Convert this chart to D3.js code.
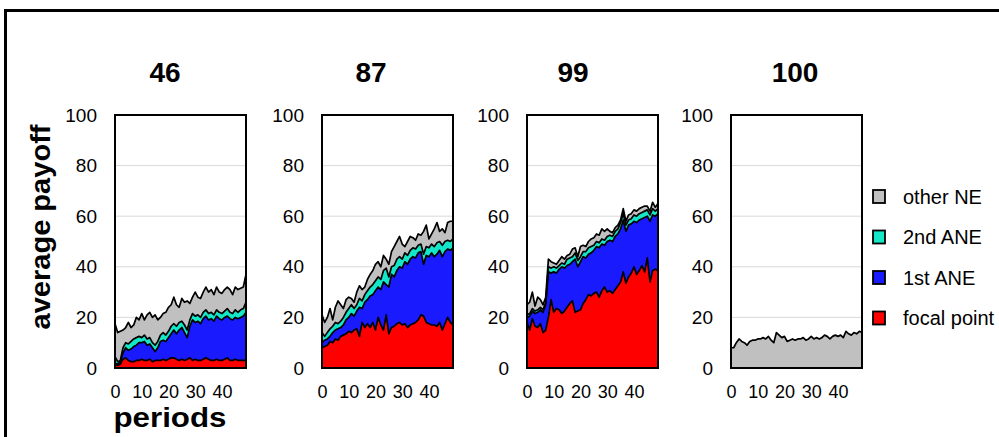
<!DOCTYPE html>
<html>
<head>
<meta charset="utf-8">
<script src="https://cdn.jsdelivr.net/npm/d3@7"></script>
<style>
	body { margin: 0; background: #fff; }
	text { font-family: "Liberation Sans", Arial, sans-serif; fill: #000; }
</style>
</head>
<body>
<div id="chart-area"></div>
<script>
// ---- data ----
const panelTitles = ["46", "87", "99", "100"];
const seriesKeys = ["focal", "ane1", "ane2", "other"];
const seriesNames = ["focal point", "1st ANE", "2nd ANE", "other NE"];
const yTickValues = [0, 20, 40, 60, 80, 100];
const xTickValues = [0, 10, 20, 30, 40];

// panel 46
const focal46 = [1.5,1,1.5,3.5,4,3,2.5,2.5,3,3,3.5,3,3,3.5,2.5,3,3,3,3.5,3,3.5,4,4,3.5,3,3.5,3,3.5,4,3,3.5,3,3,3.5,4,3.5,3,3,3.5,3,3,3.5,4,3,3,3.5,3,3,3,3];
const ane1st46 = [0.5,0.5,1,2.5,4,4,5,6,6,7,6.5,7.5,6,6,5.5,3.5,5,7.5,7.5,7.5,8.5,9.5,11,10,12,12.5,11,8.5,12.5,16,14.5,15.5,14.5,16,16.5,15.5,16.5,15.5,17,16.5,16,16.5,16.5,16.5,16,16.5,16.5,17,17.5,19];
const ane2nd46 = [2.5,1,0.5,2,2,2.5,3,3,3,2.5,2,2.5,2.5,2.5,2,2.5,2.5,2.5,3,2.5,2.5,3,2.5,3,3,2.5,3,3,2.5,2.5,2.5,2.5,2.5,2.5,2.5,2.5,2.5,2.5,2.5,2.5,2.5,2.5,3,2.5,2.5,3,2.5,3,3,4];
const otherNE46 = [13,11.5,11.5,7,6,8.5,5.5,5.5,8,6.5,9.5,6,9.5,10,10,12,8.5,7,7.5,9,9.5,8.5,10.5,8.5,6,9,9,11.5,6.5,6.5,9.5,7,7.5,8,9,8.5,9,8,9,8,8,8.5,8.5,9,7.5,9,9,8.5,8.5,11];

// panel 87
const focal87 = [8,8.5,9,10.5,10,11.5,11,12.5,13,13.5,14.5,14,15,15.5,12.5,18,16,17.5,16,18,15,20,17,15,21,13.5,16,16.5,17.5,18,17,17.5,16,17,17.5,18,19,21,20.5,18,17.5,17,17,16.5,18,15,17.5,20,18,17];
const ane1st87 = [2,2.5,2.5,2,4,3.5,4.5,3.5,4,5.5,5.5,7.5,5.5,7,11.5,5.5,10,9.5,12.5,11,15.5,12,14,19,12,18.5,21,19.5,21,22,22.5,24.5,25,26,26.5,25.5,26.5,25,20.5,26.5,26.5,28.5,27,28.5,28.5,29,28.5,27,28.5,30.5];
const ane2nd87 = [4,1.5,2.5,3,2.5,3,2,2.5,3,3,3.5,3.5,3,2.5,3.5,3,3,3.5,3.5,4,4,4,4,4.5,6.5,4,3,4.5,4.5,4,3.5,3.5,3.5,3.5,3.5,3.5,3,3,4,3.5,3.5,3.5,4,4.5,3.5,4.5,4,3.5,3.5,3.5];
const otherNE87 = [7,5.5,6,8,2.5,6,9,6.5,3.5,5,4.5,2.5,2.5,5,5,4.5,3,4.5,5,5.5,6.5,6,5,6,3.5,5,6,7.5,7,8,6,2.5,5.5,5.5,4,3.5,4.5,3.5,9,8.5,3.5,4,7,8,4,6.5,3.5,7,8,7];

// panel 99
const focal99 = [18,15,19.5,16.5,16,17.5,14,15,20,27,22,23.5,23,21.5,22.5,24,25.5,26.5,22,22.5,23,25.5,27,29,28.5,29.5,30,28,30.5,32,30,30.5,29.5,31,32.5,34,38,33.5,36,37.5,40,37,38.5,40.5,38,43.5,34,38.5,39,38.5];
const ane1st99 = [2,5.5,3,5,6,5.5,8,10,18,10.5,16,14,16,18.5,17,16.5,15.5,15.5,21,17.5,19,18.5,16.5,16,17,17,18,19.5,18.5,16.5,20,20,20.5,21,20.5,21,20.5,20.5,20.5,19.5,18,20.5,20,18.5,21.5,16.5,24,22,21,22.5];
const ane2nd99 = [1,1,1,1,1,1,1,1,2,2,2,2,1.5,1.5,1.5,2.5,2.5,2,2.5,2.5,2,2,2.5,2.5,2.5,2,2,2,2,2,2,2,2,2,2,2.5,2.5,2.5,2,2,2.5,2.5,2.5,2.5,2.5,2.5,2.5,2.5,2,2];
const otherNE99 = [4,4.5,6.5,2,5,3,2,2,3,2.5,1.5,1.5,2,2.5,2,1.5,1.5,3,2,1.5,4,2.5,2,2.5,3,3,3,3,4,3.5,3,1.5,1.5,1.5,1.5,1,2,1.5,2,2,2,2,2,2,2,1.5,1.5,2.5,1.5,2];

// panel 100 (only other NE)
const otherNE100 = [8,8,10,11.5,10.5,10,9,10.5,11,11,11.5,11.5,12,11.5,12.5,11,10,14,13,12,12.5,10.5,11,11.5,11,11.5,11.5,12,11,11.5,12.5,11.5,12,11.5,12,13,12.5,11.5,12.5,13,12.5,13,12,14.5,13.5,13,14,13.5,14.5,14];

const panelSeries = [
	{focal: focal46, ane1: ane1st46, ane2: ane2nd46, other: otherNE46},
	{focal: focal87, ane1: ane1st87, ane2: ane2nd87, other: otherNE87},
	{focal: focal99, ane1: ane1st99, ane2: ane2nd99, other: otherNE99},
	{other: otherNE100}
];

// ---- layout ----
const W = 999, H = 437;
const colors = {focal: "#ff0000", ane1: "#1a1aff", ane2: "#14e6c8", other: "#c0c0c0"};
const plotTop = 115, plotBottom = 368, plotW = 131;
const panelLefts = [115, 322, 527, 731];
const titleOffsets = [50, 49, 46, 64];

let svg = d3.select("#chart-area")
	.append("svg")
		.attr("width", W)
		.attr("height", H);

// outer frame (open to the right and bottom)
svg.append("rect")
	.attr("x", 5.5)
	.attr("y", 10.5)
	.attr("width", 1100)
	.attr("height", 600)
	.attr("fill", "none")
	.attr("stroke", "#000")
	.attr("stroke-width", 3);

let y = d3.scaleLinear()
	.domain([0, 100])
	.range([plotBottom, plotTop]);

panelTitles.forEach((title, pi) => {
	let left = panelLefts[pi];
	let x = d3.scaleLinear()
		.domain([0, 49])
		.range([left, left + plotW]);

	let g = svg.append("g");

	// gridlines
	g.selectAll(".grid")
		.data(yTickValues.filter((d) => d > 0 && d < 100))
		.enter()
		.append("line")
			.attr("x1", left)
			.attr("x2", left + plotW)
			.attr("y1", (d) => y(d))
			.attr("y2", (d) => y(d))
			.attr("stroke", "#d9d9d9")
			.attr("stroke-width", 1);

	// stacked areas
	let series = panelSeries[pi];
	let keys = seriesKeys.filter((k) => series[k]);
	let rows = series[keys[0]].map((v, i) => {
		let row = {period: i};
		keys.forEach((k) => row[k] = series[k][i]);
		return row;
	});
	let stacked = d3.stack().keys(keys)(rows);

	let area = d3.area()
		.x((d) => x(d.data.period))
		.y0((d) => y(d[0]))
		.y1((d) => y(d[1]));
	let topLine = d3.line()
		.x((d) => x(d.data.period))
		.y((d) => y(d[1]));

	g.selectAll(".layer")
		.data(stacked)
		.enter()
		.append("path")
			.attr("d", area)
			.attr("fill", (d) => colors[d.key]);

	g.selectAll(".edge")
		.data(stacked)
		.enter()
		.append("path")
			.attr("d", topLine)
			.attr("fill", "none")
			.attr("stroke", "#000")
			.attr("stroke-width", 1.7)
			.attr("stroke-linejoin", "round");

	// plot frame
	g.append("rect")
		.attr("x", left)
		.attr("y", plotTop)
		.attr("width", plotW)
		.attr("height", plotBottom - plotTop)
		.attr("fill", "none")
		.attr("stroke", "#000")
		.attr("stroke-width", 2);

	// Y axis
	let yAxis = d3.axisLeft(y)
		.tickValues(yTickValues)
		.tickSize(0)
		.tickPadding(18);
	let ya = g.append("g")
		.attr("transform", "translate(" + left + ",0)")
		.call(yAxis);
	ya.select(".domain").remove();
	ya.selectAll("text")
		.attr("font-size", "19px")
		.attr("font-family", "Liberation Sans, Arial, sans-serif");

	// X axis
	let xAxis = d3.axisBottom(x)
		.tickValues(xTickValues)
		.tickSize(0)
		.tickPadding(17);
	let xa = g.append("g")
		.attr("transform", "translate(0," + plotBottom + ")")
		.call(xAxis);
	xa.select(".domain").remove();
	xa.selectAll("text")
		.attr("font-size", "18px")
		.attr("font-family", "Liberation Sans, Arial, sans-serif");

	// title
	g.append("text")
		.attr("x", left + titleOffsets[pi])
		.attr("y", 82)
		.attr("text-anchor", "middle")
		.attr("font-size", "28px")
		.attr("font-weight", "bold")
		.text(title);
});

// Y Label
svg.append("text")
	.attr("transform", "translate(50,227) rotate(-90)")
	.attr("text-anchor", "middle")
	.attr("font-size", "27px")
	.attr("font-weight", "bold")
	.attr("textLength", 205)
	.attr("lengthAdjust", "spacingAndGlyphs")
	.text("average payoff");

// X Label
svg.append("text")
	.attr("x", 170)
	.attr("y", 427)
	.attr("text-anchor", "middle")
	.attr("font-size", "27px")
	.attr("font-weight", "bold")
	.attr("textLength", 113)
	.attr("lengthAdjust", "spacingAndGlyphs")
	.text("periods");

// Legend
let legendKeys = seriesKeys.slice().reverse();
let legendNames = seriesNames.slice().reverse();
let legend = svg.append("g")
	.attr("transform", "translate(873,190)");
legendKeys.forEach((k, i) => {
	let row = legend.append("g")
		.attr("transform", "translate(0," + (i * 40.5) + ")");
	row.append("rect")
		.attr("width", 12)
		.attr("height", 13)
		.attr("fill", colors[k])
		.attr("stroke", "#000")
		.attr("stroke-width", 1.8);
	row.append("text")
		.attr("x", 30)
		.attr("y", 6.5)
		.attr("dy", "0.35em")
		.attr("font-size", "20px")
		.text(legendNames[i]);
});
</script>
</body>
</html>
